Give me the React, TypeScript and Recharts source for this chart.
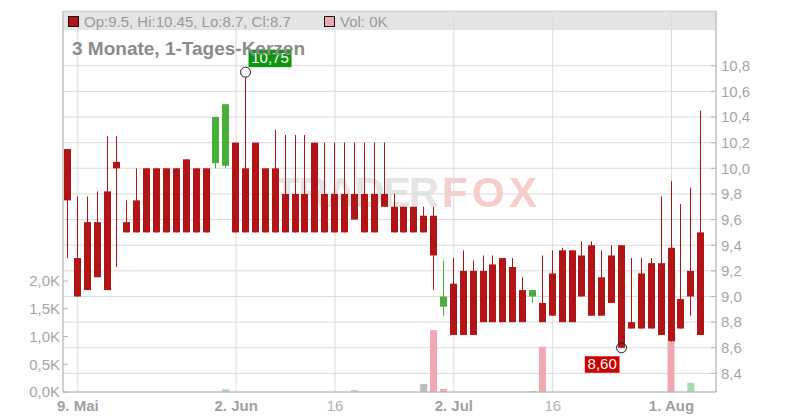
import React from "react";
import { Bar, CartesianGrid, Cell, ComposedChart, XAxis, YAxis } from "recharts";

// trading days, 8 May - 6 Aug 2025
const days = [
  "2025-05-08", "2025-05-09", "2025-05-12", "2025-05-13", "2025-05-14", "2025-05-15", "2025-05-16",
  "2025-05-19", "2025-05-20", "2025-05-21", "2025-05-22", "2025-05-23", "2025-05-26", "2025-05-27",
  "2025-05-28", "2025-05-29", "2025-05-30", "2025-06-02", "2025-06-03", "2025-06-04", "2025-06-05",
  "2025-06-06", "2025-06-09", "2025-06-10", "2025-06-11", "2025-06-12", "2025-06-13", "2025-06-16",
  "2025-06-17", "2025-06-18", "2025-06-19", "2025-06-20", "2025-06-23", "2025-06-24", "2025-06-25",
  "2025-06-26", "2025-06-27", "2025-06-30", "2025-07-01", "2025-07-02", "2025-07-03", "2025-07-04",
  "2025-07-07", "2025-07-08", "2025-07-09", "2025-07-10", "2025-07-11", "2025-07-14", "2025-07-15",
  "2025-07-16", "2025-07-17", "2025-07-18", "2025-07-21", "2025-07-22", "2025-07-23", "2025-07-24",
  "2025-07-25", "2025-07-28", "2025-07-29", "2025-07-30", "2025-07-31", "2025-08-01", "2025-08-04",
  "2025-08-05", "2025-08-06",
];

const opens = [
  10.15, 9.3, 9.58, 9.58, 9.82, 10.05, 9.58, 9.75, 10.0, 10.0, 10.0, 10.0, 10.07, 10.0, 10.0, 10.04, 10.02,
  10.2, 10.0, 10.2, 10.0, 10.0, 9.8, 9.8, 9.8, 10.2, 9.8, 9.8, 9.8, 9.8, 9.8, 9.8, 9.8, 9.7, 9.7, 9.7, 9.63,
  9.63, 8.92, 9.1, 9.2, 9.2, 9.2, 9.25, 9.3, 9.23, 9.05, 9.0, 8.95, 9.18, 9.36, 9.36, 9.32, 9.4, 9.15, 9.32,
  9.4, 8.8, 9.18, 9.26, 9.26, 9.38, 8.98, 9.2, 9.5,
];
const highs = [
  10.15, 9.78, 9.78, 9.82, 10.25, 10.25, 9.75, 10.0, 10.0, 10.0, 10.0, 10.0, 10.07, 10.0, 10.0, 10.4, 10.5,
  10.2, 10.75, 10.2, 10.0, 10.3, 10.26, 10.26, 10.26, 10.2, 10.2, 10.2, 10.2, 10.2, 10.2, 10.2, 10.2, 9.8, 9.7,
  9.7, 9.7, 9.7, 9.28, 9.3, 9.36, 9.28, 9.32, 9.32, 9.3, 9.3, 9.15, 9.05, 9.32, 9.36, 9.38, 9.36, 9.43, 9.43,
  9.36, 9.4, 9.4, 9.3, 9.3, 9.3, 9.78, 9.9, 9.72, 9.85, 10.45,
];
const lows = [
  9.3, 9.0, 9.05, 9.15, 9.05, 9.23, 9.5, 9.5, 9.5, 9.5, 9.5, 9.5, 9.5, 9.5, 9.5, 10.0, 10.0,
  9.5, 9.5, 9.5, 9.5, 9.5, 9.5, 9.5, 9.5, 9.5, 9.5, 9.5, 9.5, 9.6, 9.5, 9.5, 9.7, 9.5, 9.5, 9.5, 9.5,
  9.05, 8.85, 8.7, 8.7, 8.7, 8.8, 8.8, 8.8, 8.8, 8.8, 8.95, 8.8, 8.85, 8.8, 8.8, 9.0, 8.85, 8.85, 8.95,
  8.6, 8.75, 8.75, 8.75, 8.7, 8.65, 8.75, 8.85, 8.7,
];
const closes = [
  9.75, 9.0, 9.05, 9.15, 9.05, 10.0, 9.5, 9.5, 9.5, 9.5, 9.5, 9.5, 9.5, 9.5, 9.5, 10.4, 10.5,
  9.5, 9.5, 9.5, 9.5, 9.5, 9.5, 9.5, 9.5, 9.5, 9.5, 9.5, 9.5, 9.6, 9.5, 9.5, 9.7, 9.5, 9.5, 9.5, 9.5,
  9.32, 9.0, 8.7, 8.7, 8.7, 8.8, 8.8, 8.8, 8.8, 8.8, 9.05, 8.8, 8.85, 8.8, 8.8, 9.0, 8.85, 8.85, 8.95,
  8.6, 8.75, 8.75, 8.75, 8.7, 8.65, 8.75, 9.0, 8.7,
];
const volumes = [
  0, 0, 0, 0, 0, 0, 0, 0, 0, 0, 0, 0, 0, 0, 0, 0, 50,
  0, 0, 0, 0, 0, 0, 0, 0, 0, 0, 0, 0, 35, 0, 0, 0, 0, 0, 0, 145,
  1115, 55, 0, 0, 0, 0, 0, 0, 0, 0, 20, 815, 0, 0, 0, 0, 0, 0, 0,
  0, 0, 0, 0, 0, 905, 0, 165, 0,
];

const xTicks = [1, 17, 27, 39, 49, 61];
const xTickLabels = ["9. Mai", "2. Jun", "16", "2. Jul", "16", "1. Aug"];
const priceTicks = [8.4, 8.6, 8.8, 9.0, 9.2, 9.4, 9.6, 9.8, 10.0, 10.2, 10.4, 10.6, 10.8];
const volTicks = [0, 500, 1000, 1500, 2000];

const PRICE_MIN = 8.255;
const PRICE_MAX = 11.227;
const VOL_MAX = 6865;

const FONT = "'Liberation Sans', Arial, sans-serif";
const RED = "#b31517";
const GREEN = "#4bae3a";
const VOL_UP = "#a9dca9";
const VOL_DOWN = "#f0a7b0";
const VOL_FLAT = "#bdbdbd";
const AXIS = "#b4b4b4";
const TXT = "#a6a6a6";

const fmt = (v: number, d: number) => v.toFixed(d).replace(".", ",");

const data = days.map((day, i) => ({
  i,
  day,
  open: opens[i],
  high: highs[i],
  low: lows[i],
  close: closes[i],
  range: [lows[i], highs[i]],
  vol: volumes[i],
  volColor:
    i === 0 || closes[i] === closes[i - 1] ? VOL_FLAT : closes[i] > closes[i - 1] ? VOL_UP : VOL_DOWN,
}));

const maxIdx = highs.indexOf(Math.max(...highs));
const minIdx = lows.indexOf(Math.min(...lows));

const textWidth = (s: string) => s.split("").reduce((w, c) => w + (c === "," ? 4.17 : 8.34), 0);

function Candle(props: any) {
  const { x, y, width, height, payload } = props;
  const { open, close, high, low, i } = payload;
  const top = Math.min(y, y + height);
  const h = Math.abs(height);
  const py = (p: number) => top + ((high - p) / (high - low)) * h;
  const color = close >= open ? GREEN : RED;
  const bx = Math.round(x);
  const bw = Math.round(width);
  const cx = bx + Math.floor(bw / 2) + 0.5;
  const bTop = py(Math.max(open, close));
  const bBot = py(Math.min(open, close));
  const maxLabel = fmt(high, 2);
  const minLabel = fmt(low, 2);
  return (
    <g>
      <line x1={cx} x2={cx} y1={top} y2={top + h} stroke={color} strokeWidth={1} />
      <rect x={bx} y={bTop} width={bw} height={Math.max(1, bBot - bTop)} fill={color} />
      {i === maxIdx && (
        <g>
          <rect x={cx + 3} y={top - 22.5} width={textWidth(maxLabel) + 5.5} height={17.5} fill="#0c960c" />
          <text x={cx + 3 + (textWidth(maxLabel) + 5.5) / 2} y={top - 9.5} textAnchor="middle" fill="#fff" fontSize={15} fontFamily={FONT}>
            {maxLabel}
          </text>
          <circle cx={cx} cy={top} r={5} fill="#fff" stroke="#222" strokeWidth={1} />
        </g>
      )}
      {i === minIdx && (
        <g>
          <circle cx={cx} cy={top + h} r={5} fill="none" stroke="#222" strokeWidth={1} />
          <rect x={cx - 2 - (textWidth(minLabel) + 5.5)} y={top + h + 8.5} width={textWidth(minLabel) + 5.5} height={16.5} fill="#cc0000" />
          <text x={cx - 2 - (textWidth(minLabel) + 5.5) / 2} y={top + h + 21.5} textAnchor="middle" fill="#fff" fontSize={15} fontFamily={FONT}>
            {minLabel}
          </text>
        </g>
      )}
    </g>
  );
}

const PriceTick = ({ x, y, payload }: any) => (
  <g>
    <line x1={x - 5} x2={x} y1={y} y2={y} stroke={AXIS} />
    <text x={x + 5} y={y} dy="0.355em" fill={TXT} fontSize={15} fontFamily={FONT}>
      {fmt(payload.value, 1)}
    </text>
  </g>
);

const VolTick = ({ x, y, payload }: any) => (
  <g>
    <line x1={x} x2={x + 5} y1={y} y2={y} stroke={AXIS} />
    <text x={x - 3} y={y} dy="0.355em" textAnchor="end" fill={TXT} fontSize={15} fontFamily={FONT}>
      {fmt(payload.value / 1000, 1)}K
    </text>
  </g>
);

const DateTick = ({ x, y, payload }: any) => {
  const label = xTickLabels[xTicks.indexOf(payload.value)] ?? "";
  const bold = label.includes(".");
  return (
    <text x={x} y={y + 19} textAnchor="middle" fill={bold ? "#a0a0a0" : "#b0b0b0"} fontWeight={bold ? "bold" : "normal"} fontSize={15} fontFamily={FONT}>
      {label}
    </text>
  );
};

const last = data[data.length - 1];

export default function App() {
  return (
    <div style={{ position: "absolute", left: 0, top: 0, width: 800, height: 420, background: "#fff", fontFamily: FONT }}>
      <svg width={800} height={420} style={{ position: "absolute", left: 0, top: 0 }}>
        <text x={274} y={207} fontSize={42} fontWeight="bold" fontFamily={FONT} fill="#e4e4e4" textLength={165}>
          TRADER
        </text>
        <text x={442} y={207} fontSize={42} fontWeight="bold" fontFamily={FONT} fill="#f9cccc" textLength={95}>
          FOX
        </text>
        <rect x={63} y={11} width={653} height={19} fill="#e4e4e4" />
        <line x1={63} x2={716} y1={11.5} y2={11.5} stroke="#c8c8c8" />
      </svg>
      <div style={{ position: "absolute", left: 0, top: 0 }}>
        <ComposedChart width={800} height={420} data={data} margin={{ top: 11, right: 0, bottom: 0, left: 0 }}>
          <CartesianGrid xAxisId="px" yAxisId="price" stroke="#dcdcdc" />
          <XAxis
            xAxisId="px"
            dataKey="i"
            type="number"
            domain={[-0.5, 65.5]}
            allowDataOverflow
            ticks={xTicks}
            interval={0}
            height={28}
            tickSize={0}
            tickMargin={0}
            tickLine={false}
            stroke={AXIS}
            tick={(p: any) => <DateTick {...p} />}
          />
          <XAxis xAxisId="vx" dataKey="i" type="number" domain={[-0.5, 65.5]} allowDataOverflow hide />
          <YAxis
            yAxisId="vol"
            orientation="left"
            width={63}
            domain={[0, VOL_MAX]}
            allowDataOverflow
            ticks={volTicks}
            interval={0}
            tickSize={0}
            tickMargin={0}
            tickLine={false}
            stroke={AXIS}
            tick={(p: any) => <VolTick {...p} />}
          />
          <YAxis
            yAxisId="price"
            orientation="right"
            width={84}
            domain={[PRICE_MIN, PRICE_MAX]}
            allowDataOverflow
            ticks={priceTicks}
            interval={0}
            tickSize={0}
            tickMargin={0}
            tickLine={false}
            stroke={AXIS}
            tick={(p: any) => <PriceTick {...p} />}
          />
          <Bar xAxisId="vx" yAxisId="vol" dataKey="vol" barSize={7} isAnimationActive={false}>
            {data.map((d) => (
              <Cell key={d.day} fill={d.volColor} />
            ))}
          </Bar>
          <Bar xAxisId="px" yAxisId="price" dataKey="range" barSize={7} shape={Candle} isAnimationActive={false} />
        </ComposedChart>
      </div>
      <svg width={800} height={420} style={{ position: "absolute", left: 0, top: 0, pointerEvents: "none" }}>
        <rect x={68.5} y={16.5} width={10} height={10} fill={RED} stroke="#111" />
        <text x={84} y={27} fontSize={15} fill="#9a9a9a" fontFamily={FONT}>
          {`Op:${last.open}, Hi:${last.high}, Lo:${last.low}, Cl:${last.close}`}
        </text>
        <rect x={324.5} y={16.5} width={10} height={10} fill={VOL_DOWN} stroke="#111" />
        <text x={340} y={27} fontSize={15} fill="#9a9a9a" fontFamily={FONT}>
          {`Vol: ${Math.round(last.vol / 1000)}K`}
        </text>
        <text x={72} y={55} fontSize={19} fontWeight="bold" fill="#8a8a8a" fontFamily={FONT}>
          3 Monate, 1-Tages-Kerzen
        </text>
      </svg>
    </div>
  );
}
